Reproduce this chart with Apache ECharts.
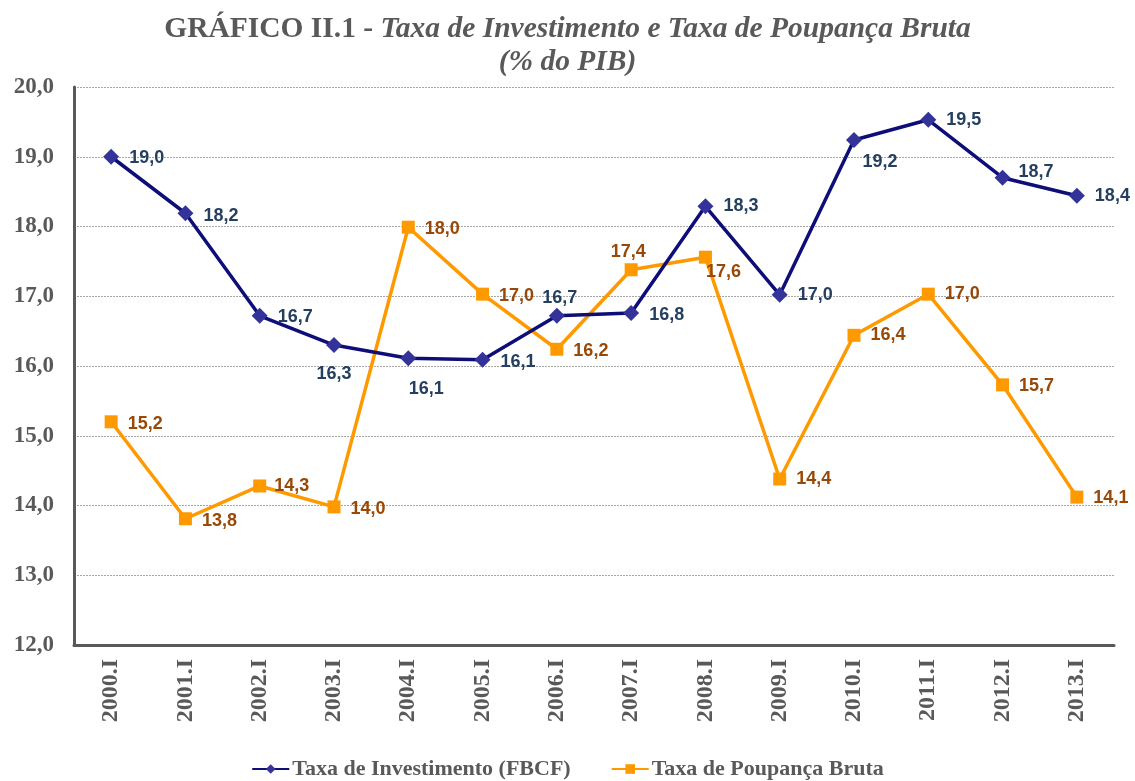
<!DOCTYPE html>
<html>
<head>
<meta charset="utf-8">
<script src="https://cdn.jsdelivr.net/npm/echarts@6/dist/echarts.min.js"></script>
<style>
html,body{margin:0;padding:0;background:#fff;}
#chart{width:1135px;height:781px;}
</style>
</head>
<body>
<div id="chart"></div>
<script>
const categories = ['2000.I','2001.I','2002.I','2003.I','2004.I','2005.I','2006.I','2007.I','2008.I','2009.I','2010.I','2011.I','2012.I','2013.I'];
const investimento = [19.0, 18.19, 16.72, 16.30, 16.11, 16.09, 16.72, 16.76, 18.29, 17.02, 19.24, 19.53, 18.70, 18.44];
const poupanca = [15.20, 13.81, 14.28, 13.98, 17.99, 17.03, 16.24, 17.38, 17.56, 14.38, 16.44, 17.03, 15.73, 14.12];
const yTicks = ['12,0','13,0','14,0','15,0','16,0','17,0','18,0','19,0','20,0'];

// label placement (style only)
const invLabelPos = [
  ['right',[2,1]],['right',[2,3]],['right',[2,1]],['bottom',[0,4]],['bottom',[18,6]],['right',[2,2]],
  ['top',[3,7]],['right',[2,2]],['right',[2,0]],['right',[2,0]],['bottom',[26,-3]],['right',[2,0]],['right',[0,-6]],['right',[2,0]]
];
const pouLabelPos = [
  ['right',[2,2]],['right',[2,2]],['right',[0,0]],['right',[2,2]],['right',[2,2]],['right',[2,2]],
  ['right',[2,2]],['top',[-3,6]],['right',[-14,15]],['right',[2,0]],['right',[2,0]],['right',[2,0]],['right',[2,1]],['right',[2,1]]
];
const fmt = v => v.toFixed(1).replace('.', ',');

function build(values, pos) {
  return values.map((v, i) => ({
    value: v,
    label: { position: pos[i][0], offset: pos[i][1] }
  }));
}

const chart = echarts.init(document.getElementById('chart'), null, {renderer: 'canvas'});
const labelBase = (color) => ({
  show: true,
  fontFamily: 'Liberation Sans, Arial, sans-serif',
  fontWeight: 'bold',
  fontSize: 18,
  color: color,
  distance: 8,
  formatter: p => fmt(p.value)
});
const serif = 'Liberation Serif, Times New Roman, serif';

chart.setOption({
  backgroundColor: '#ffffff',
  animation: false,
  title: {
    left: 'center',
    top: 8,
    text: '{b|GRÁFICO II.1 - }{bi|Taxa de Investimento e Taxa de Poupança Bruta}\n{bi|(% do PIB)}',
    textStyle: {
      rich: {
        b: {fontFamily: serif, fontWeight: 'bold', fontSize: 29.5, color: '#595959', lineHeight: 33},
        bi: {fontFamily: serif, fontWeight: 'bold', fontStyle: 'italic', fontSize: 29.5, color: '#595959', lineHeight: 33}
      }
    }
  },
  legend: {
    bottom: -4,
    left: 'center',
    itemWidth: 37,
    itemHeight: 12,
    itemGap: 40,
    textStyle: {fontFamily: serif, fontWeight: 'bold', fontSize: 22, color: '#595959', padding: [0, 0, 0, -2]},
    data: ['Taxa de Investimento (FBCF)', 'Taxa de Poupança Bruta']
  },
  grid: {left: 74, right: 21, top: 87, bottom: 136, containLabel: false},
  xAxis: {
    type: 'category',
    data: categories,
    boundaryGap: true,
    axisLine: {lineStyle: {color: '#595959', width: 3}},
    axisTick: {show: false},
    axisLabel: {
      rotate: 90,
      margin: 14,
      fontFamily: serif,
      fontWeight: 'bold',
      fontSize: 24,
      color: '#595959'
    }
  },
  yAxis: {
    type: 'value',
    min: 12,
    max: 20,
    interval: 1,
    axisLine: {show: true, lineStyle: {color: '#595959', width: 3}},
    axisTick: {show: false},
    splitLine: {lineStyle: {color: '#a6a6a6', type: [2, 1], width: 1}},
    axisLabel: {
      margin: 20,
      fontFamily: serif,
      fontWeight: 'bold',
      fontSize: 23,
      color: '#595959',
      formatter: v => yTicks[Math.round(v - 12)]
    }
  },
  series: [
    {
      name: 'Taxa de Investimento (FBCF)',
      type: 'line',
      data: build(investimento, invLabelPos),
      symbol: 'diamond',
      symbolSize: 16,
      lineStyle: {color: '#0E0E78', width: 3.5},
      itemStyle: {color: '#333399'},
      label: labelBase('#243F60'),
      z: 3
    },
    {
      name: 'Taxa de Poupança Bruta',
      type: 'line',
      data: build(poupanca, pouLabelPos),
      symbol: 'rect',
      symbolSize: 13,
      lineStyle: {color: '#FF9900', width: 3.5},
      itemStyle: {color: '#FF9900'},
      label: labelBase('#984807'),
      z: 2
    }
  ]
});
</script>
</body>
</html>
